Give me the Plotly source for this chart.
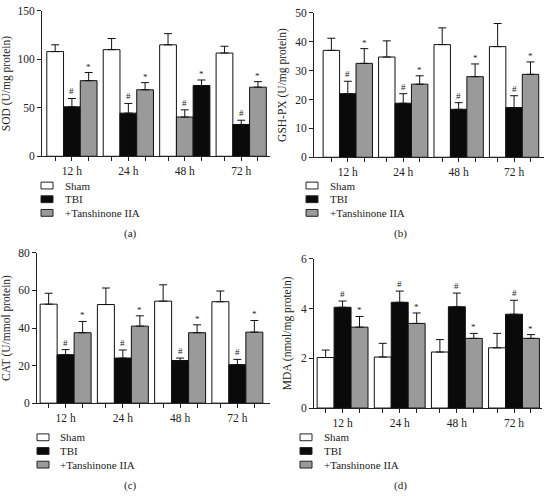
import plotly.graph_objects as go

times = ["12 h", "24 h", "48 h", "72 h"]
groups = ["Sham", "TBI", "+Tanshinone IIA"]

# (a) SOD (U/mg protein)
sod_sham = [108, 110, 115, 106.5]
sod_sham_err = [7, 11.5, 11.5, 7]
sod_tbi = [51, 44.5, 40.5, 32.8]
sod_tbi_err = [8.6, 10, 7.4, 4.4]
sod_tan = [78, 68.6, 73, 71.3]
sod_tan_err = [8.4, 7.4, 5.7, 5.7]

# (b) GSH-PX (U/mg protein)
gsh_sham = [37, 34.7, 39, 38.3]
gsh_sham_err = [4.2, 5.6, 5.8, 8]
gsh_tbi = [22, 18.7, 16.6, 17.2]
gsh_tbi_err = [4.3, 3.3, 2.3, 4.1]
gsh_tan = [32.5, 25.3, 27.9, 28.7]
gsh_tan_err = [5.1, 2.9, 4.4, 4.3]

# (c) CAT (U/mmol protein)
cat_sham = [52.7, 52.5, 54.3, 54]
cat_sham_err = [5.8, 8.8, 8.7, 5.7]
cat_tbi = [25.8, 24, 22.7, 20.5]
cat_tbi_err = [2.7, 4.3, 1.3, 2.8]
cat_tan = [37.5, 41, 37.5, 37.8]
cat_tan_err = [6, 5.5, 4.2, 6.2]

# (d) MDA (nmol/mg protein)
mda_sham = [2.03, 2.05, 2.25, 2.42]
mda_sham_err = [0.3, 0.55, 0.5, 0.58]
mda_tbi = [4.05, 4.25, 4.07, 3.77]
mda_tbi_err = [0.25, 0.45, 0.55, 0.56]
mda_tan = [3.25, 3.4, 2.8, 2.8]
mda_tan_err = [0.43, 0.42, 0.2, 0.15]

y_ticks_a = [0, 50, 100, 150]
y_ticks_b = [0, 10, 20, 30, 40, 50]
y_ticks_c = [0, 20, 40, 60, 80]
y_ticks_d = [0, 2, 4, 6]

WHITE, BLACK, GRAY = "#ffffff", "#0a0a0a", "#9a9a9a"
W, H = 545, 496
FONT = "Liberation Serif"
BARGAP = 0.11

panels = [
    dict(key="", sub="(a)", title="SOD (U/mg protein)",
         data=[(sod_sham, sod_sham_err), (sod_tbi, sod_tbi_err), (sod_tan, sod_tan_err)],
         colors=[[WHITE] * 4, [BLACK, BLACK, GRAY, BLACK], [GRAY, GRAY, BLACK, GRAY]],
         ticks=y_ticks_a, xpx=(42, 270), ypx=(5, 154), xr=[-0.53, 3.51],
         leg=(41, 63, 184), subpos=(130, 233)),
    dict(key="2", sub="(b)", title="GSH-PX (U/mg protein)",
         data=[(gsh_sham, gsh_sham_err), (gsh_tbi, gsh_tbi_err), (gsh_tan, gsh_tan_err)],
         colors=[[WHITE] * 4, [BLACK] * 4, [GRAY] * 4],
         ticks=y_ticks_b, xpx=(314, 544), ypx=(7, 155), xr=[-0.61, 3.54],
         leg=(306, 328, 184), subpos=(400, 233)),
    dict(key="3", sub="(c)", title="CAT (U/mmol protein)",
         data=[(cat_sham, cat_sham_err), (cat_tbi, cat_tbi_err), (cat_tan, cat_tan_err)],
         colors=[[WHITE] * 4, [BLACK] * 4, [GRAY] * 4],
         ticks=y_ticks_c, xpx=(37, 270), ypx=(253, 407), xr=[-0.5, 3.57],
         leg=(37, 58, 442), subpos=(130, 491)),
    dict(key="4", sub="(d)", title="MDA (nmol/mg protein)",
         data=[(mda_sham, mda_sham_err), (mda_tbi, mda_tbi_err), (mda_tan, mda_tan_err)],
         colors=[[WHITE] * 4, [BLACK] * 4, [GRAY] * 4],
         ticks=y_ticks_d, xpx=(314, 542), ypx=(259, 412), xr=[-0.5, 3.49],
         leg=(300, 322, 442), subpos=(400, 491)),
]

fig = go.Figure()
annotations = []
shapes = []
layout = {}
bw = (1 - BARGAP) / 3
xpos = list(range(len(times)))

for p in panels:
    k = p["key"]
    xa, ya = "x" + k, "y" + k
    for gi, ((vals, errs), cols) in enumerate(zip(p["data"], p["colors"])):
        fig.add_trace(go.Bar(
            x=xpos, y=vals, name=groups[gi], xaxis=xa, yaxis=ya,
            offsetgroup=str(gi), showlegend=False,
            marker=dict(color=cols, line=dict(color="#111111", width=1)),
            error_y=dict(type="data", symmetric=False, array=errs,
                         arrayminus=[0] * len(errs), color="#111111",
                         thickness=1, width=4),
        ))
        mark = {1: "#", 2: "*"}.get(gi)
        if mark:
            for i, (v, e) in enumerate(zip(vals, errs)):
                annotations.append(dict(
                    x=i + (gi - 1) * bw, y=v + e, xref=xa, yref=ya,
                    text=mark, showarrow=False, yanchor="bottom",
                    yshift=0 if mark == "#" else -1,
                    font=dict(family=FONT, size=9, color="#222")))
    tickvals, ticktext = [], []
    for i, t in enumerate(times):
        for gi in range(3):
            tickvals.append(i + (gi - 1) * bw)
            ticktext.append(t if gi == 1 else "")
    x0, x1 = p["xpx"]
    y0, y1 = p["ypx"]
    layout["xaxis" + k] = dict(
        domain=[x0 / W, x1 / W], anchor=ya, range=p["xr"],
        tickmode="array", tickvals=tickvals, ticktext=ticktext,
        ticks="outside", ticklen=4, tickwidth=1, tickcolor="#222",
        showline=True, linecolor="#222", linewidth=1, showgrid=False, zeroline=False,
        tickfont=dict(family=FONT, size=11.5, color="#222"), fixedrange=True)
    layout["yaxis" + k] = dict(
        domain=[1 - y1 / H, 1 - y0 / H], anchor=xa,
        range=[0, p["ticks"][-1]], tickmode="array", tickvals=p["ticks"],
        ticks="outside", ticklen=4, tickwidth=1, tickcolor="#222",
        showline=True, linecolor="#222", linewidth=1, showgrid=False, zeroline=False,
        tickfont=dict(family=FONT, size=11.5, color="#222"),
        title=dict(text=p["title"], font=dict(family=FONT, size=11.5, color="#222"),
                   standoff=6))
    # legend
    bx, tx, ty = p["leg"]
    for gi, g in enumerate(groups):
        yc = ty + gi * 14
        shapes.append(dict(type="rect", xref="paper", yref="paper",
                           x0=bx / W, x1=(bx + 12) / W,
                           y0=1 - (yc + 3.5) / H, y1=1 - (yc - 3.5) / H,
                           fillcolor=[WHITE, BLACK, GRAY][gi],
                           line=dict(color="#222", width=1)))
        annotations.append(dict(x=tx / W, y=1 - yc / H, xref="paper", yref="paper",
                                text=g, showarrow=False, xanchor="left", yanchor="middle",
                                font=dict(family=FONT, size=11, color="#222")))
    sx, sy = p["subpos"]
    annotations.append(dict(x=sx / W, y=1 - sy / H, xref="paper", yref="paper",
                            text=p["sub"], showarrow=False, xanchor="center",
                            yanchor="middle", font=dict(family=FONT, size=11, color="#222")))

fig.update_layout(
    width=W, height=H, margin=dict(l=0, r=0, t=0, b=0),
    paper_bgcolor="white", plot_bgcolor="white",
    barmode="group", bargap=BARGAP, bargroupgap=0,
    annotations=annotations, shapes=shapes, showlegend=False,
    font=dict(family=FONT, color="#222"),
    **layout)

fig.write_html("out.html", config={"displayModeBar": False},
               post_script="document.body.style.margin='0';document.body.style.overflow='hidden';")
